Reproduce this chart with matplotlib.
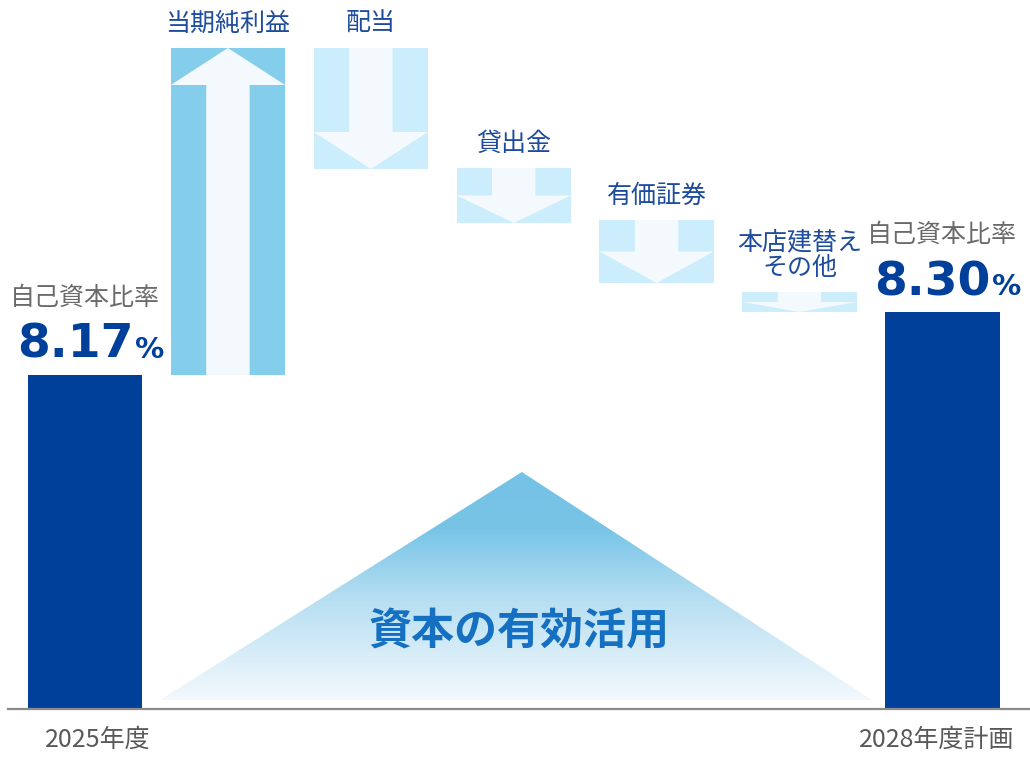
import matplotlib.pyplot as plt
import numpy as np
from matplotlib.patches import Polygon
from matplotlib.colors import LinearSegmentedColormap

plt.rcParams['font.family'] = ['Noto Sans CJK JP', 'DejaVu Sans']

# -----------------------------
# Data (levels, arbitrary units above the baseline)
# -----------------------------
items = ['2025年度', '当期純利益', '配当', '貸出金', '有価証券', '本店建替え\nその他', '2028年度計画']
kinds = ['total', 'up', 'down', 'down', 'down', 'down', 'total']
bottoms = [0, 334, 540, 486, 426, 397, 0]
tops = [334, 661, 661, 541, 489, 417, 397]
ratio_values = ['8.17', '8.30']
ratio_title = '自己資本比率'
center_text = '資本の有効活用'

# -----------------------------
# Styles
# -----------------------------
DARK = '#00409a'
UP = '#84cdeb'
DOWN = '#ccedfb'
ARROW = '#f3f9fd'
LABEL = '#1d4c9c'
GRAY = '#6a6a6a'

fig = plt.figure(figsize=(10.3, 7.57), dpi=100)
ax = fig.add_axes([0, 0, 1, 1])
ax.set_xlim(-0.595, 6.613)
ax.set_ylim(-48, 709)

x = np.arange(len(items))
heights = [t - b for t, b in zip(tops, bottoms)]
colors = [DARK if k == 'total' else (UP if k == 'up' else DOWN) for k in kinds]
width = 0.8
ax.bar(x, heights, bottom=bottoms, width=width, color=colors, zorder=2)

# -----------------------------
# Arrows inside the change bars
# -----------------------------
half = width / 2
shaft = width * 0.19
for i, (k, b, t) in enumerate(zip(kinds, bottoms, tops)):
    if k == 'total':
        continue
    hl = min(37, 0.5 * (t - b))
    if k == 'up':
        pts = [(i - shaft, b), (i + shaft, b), (i + shaft, t - hl), (i + half, t - hl),
               (i, t), (i - half, t - hl), (i - shaft, t - hl)]
    else:
        pts = [(i - shaft, t), (i + shaft, t), (i + shaft, b + hl), (i + half, b + hl),
               (i, b), (i - half, b + hl), (i - shaft, b + hl)]
    ax.add_patch(Polygon(pts, closed=True, facecolor=ARROW, edgecolor='none', zorder=3))
    ax.annotate(items[i], (i, t), xytext=(0, 8), textcoords='offset points',
                ha='center', va='bottom', fontsize=18, color=LABEL, linespacing=1.0)

# -----------------------------
# Ratio labels above the total bars
# -----------------------------
for i, val in zip([0, len(items) - 1], ratio_values):
    t = tops[i]
    ax.text(i, t + 77, ratio_title, ha='center', va='center', fontsize=18, color=GRAY)
    ax.text(i + 0.34, t + 17, val, ha='right', va='baseline', fontsize=34,
            fontweight='bold', color=DARK, family='DejaVu Sans')
    ax.text(i + 0.35, t + 17, '%', ha='left', va='baseline', fontsize=21,
            fontweight='bold', color=DARK, family='DejaVu Sans')

# -----------------------------
# Gradient triangle
# -----------------------------
tri_left, tri_right, tri_apex, tri_base, tri_top = 0.525, 5.507, 3.057, 9, 237
cmap = LinearSegmentedColormap.from_list(
    'tri', [(0, '#f3f9fd'), (0.45, '#b5def2'), (0.75, '#78c4e7'), (1, '#74c2e6')])
grad = np.linspace(0, 1, 256).reshape(-1, 1)
img = ax.imshow(grad, cmap=cmap, origin='lower', aspect='auto',
                extent=[tri_left, tri_right, tri_base, tri_top], zorder=1)
tri = Polygon([(tri_left, tri_base), (tri_right, tri_base), (tri_apex, tri_top)],
              closed=True, facecolor='none', edgecolor='none')
ax.add_patch(tri)
img.set_clip_path(tri)
ax.text(tri_apex - 0.02, 77, center_text, ha='center', va='center', fontsize=31,
        fontweight='bold', color='#1570c2', zorder=4)

# -----------------------------
# Baseline and period labels
# -----------------------------
for s in ['top', 'left', 'right']:
    ax.spines[s].set_visible(False)
ax.spines['bottom'].set_position(('data', 0))
ax.spines['bottom'].set_bounds(-0.54, 6.613)
ax.spines['bottom'].set_color('#8a8a8a')
ax.spines['bottom'].set_linewidth(1.6)
ax.spines['bottom'].set_zorder(5)
ax.set_yticks([])
ax.set_xticks([0.09, len(items) - 1.04], [items[0], items[-1]])
ax.tick_params(axis='x', length=0, pad=13, labelsize=18, labelcolor='#595959')

fig.savefig('out.png', dpi=100)
